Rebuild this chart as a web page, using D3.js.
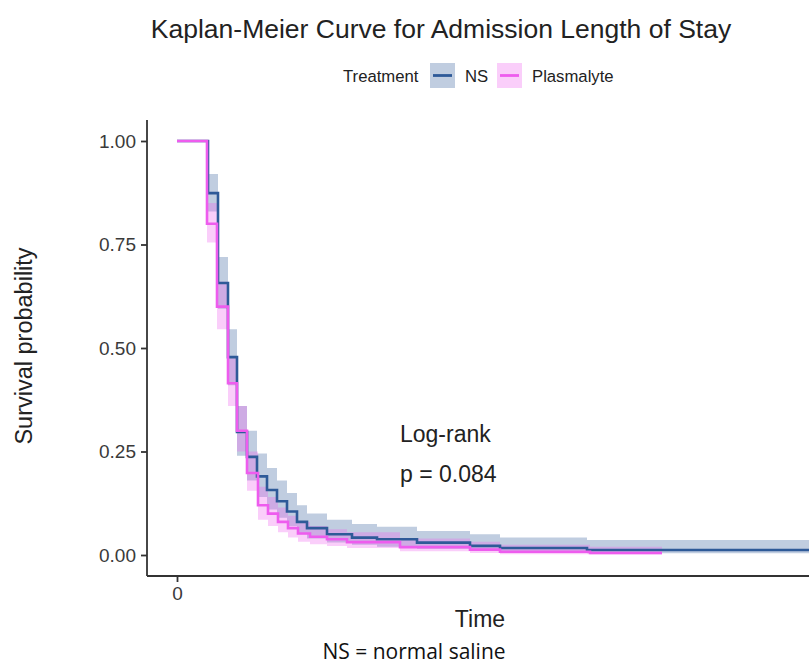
<!DOCTYPE html>
<meta charset="utf-8">
<style>
  body { margin: 0; background: #fff; }
  text { font-family: "Liberation Sans", Arial, sans-serif; }
</style>
<body>
<script src="https://d3js.org/d3.v7.min.js"></script>
<div id="chart"></div>
<script>

// Kaplan-Meier estimates (time in arbitrary units)
var nsTime  = [0, 3.1, 4.1, 5.1, 6.0, 7.0, 8.0, 9.0, 10.0, 11.0, 12.0, 13.0, 15.0, 17.5, 20, 24, 29.3, 32.3, 41, 70];
var nsSurv  = [1, .874, .657, .478, .297, .237, .19, .157, .13, .105, .08, .065, .05, .042, .038, .03, .022, .017, .012, .012];
var nsUpper = [1, .92, .72, .545, .36, .30, .245, .21, .18, .15, .12, .10, .085, .075, .068, .058, .05, .042, .036, .036];
var nsLower = [1, .83, .595, .41, .24, .18, .14, .11, .09, .07, .05, .04, .03, .025, .02, .015, .01, .007, .004, .004];

var plTime  = [0, 3.0, 4.0, 5.1, 6.0, 7.0, 8.1, 9.1, 10.1, 11.1, 12.1, 13.3, 15, 17, 22.3, 29.3, 32.3, 41.3, 48.5];
var plSurv  = [1, .80, .60, .415, .30, .198, .12, .10, .08, .065, .052, .044, .038, .031, .019, .013, .008, .005, .005];
var plUpper = [1, .85, .66, .475, .36, .25, .165, .14, .115, .095, .08, .07, .062, .055, .04, .032, .025, .02, .02];
var plLower = [1, .755, .545, .36, .25, .155, .085, .07, .055, .042, .032, .026, .022, .017, .009, .005, .002, .001, .001];

var yTicks = [0, 0.25, 0.5, 0.75, 1];
var xTicks = [0];

var groups = ["NS", "Plasmalyte"];
var colors = ["#2e5a98", "#ee5cee"];

var width = 809, height = 665;

var x = d3.scaleLinear().domain([0, 63]).range([177, 807]);
var y = d3.scaleLinear().domain([0, 1]).range([555, 141]);

var svg = d3.select("#chart")
  .append("svg")
    .attr("width", width)
    .attr("height", height);

function rows(t, s, lo, hi) {
  return t.map(function(d, i) { return {t: d, s: s[i], lo: lo[i], hi: hi[i]}; });
}
var series = [rows(nsTime, nsSurv, nsLower, nsUpper), rows(plTime, plSurv, plLower, plUpper)];

var band = d3.area()
  .curve(d3.curveStepAfter)
  .x(function(d) { return x(d.t); })
  .y0(function(d) { return y(d.lo); })
  .y1(function(d) { return y(d.hi); });

var line = d3.line()
  .curve(d3.curveStepAfter)
  .x(function(d) { return x(d.t); })
  .y(function(d) { return y(d.s); });

// confidence bands
series.forEach(function(d, i) {
  svg.append("path")
    .attr("d", band(d))
    .style("fill", colors[i])
    .style("fill-opacity", 0.3);
});

// survival curves
series.forEach(function(d, i) {
  svg.append("path")
    .attr("d", line(d))
    .style("fill", "none")
    .style("stroke", colors[i])
    .style("stroke-width", 2.6);
});

// axes
var yAxis = svg.append("g")
  .attr("transform", "translate(147,0)")
  .call(d3.axisLeft(y).tickValues(yTicks).tickFormat(d3.format(".2f")).tickSize(6).tickPadding(5));
yAxis.select(".domain").attr("d", "M0,120V576");

var xAxis = svg.append("g")
  .attr("transform", "translate(0,576)")
  .call(d3.axisBottom(x).tickValues(xTicks).tickSize(6).tickPadding(5));
xAxis.select(".domain").attr("d", "M147,0H809");

svg.selectAll(".domain").style("stroke", "#333").style("stroke-width", 1.8);
svg.selectAll(".tick line").style("stroke", "#333").style("stroke-width", 1.8);
svg.selectAll(".tick text")
  .style("font-size", "19px")
  .style("fill", "#3a3a3a")
  .style("font-family", "'Liberation Sans', Arial, sans-serif");

// titles
svg.append("text")
  .attr("x", 441).attr("y", 38)
  .attr("text-anchor", "middle")
  .style("font-size", "26.5px")
  .style("fill", "#222")
  .text("Kaplan-Meier Curve for Admission Length of Stay");

svg.append("text")
  .attr("x", 480).attr("y", 627)
  .attr("text-anchor", "middle")
  .style("font-size", "23px")
  .style("fill", "#222")
  .text("Time");

svg.append("text")
  .attr("transform", "translate(32,346) rotate(-90)")
  .attr("text-anchor", "middle")
  .style("font-size", "23.5px")
  .style("fill", "#222")
  .text("Survival probability");

// log-rank annotation
svg.append("text")
  .attr("x", 400).attr("y", 442)
  .style("font-size", "23px")
  .style("fill", "#222")
  .text("Log-rank");
svg.append("text")
  .attr("x", 400).attr("y", 482)
  .style("font-size", "23px")
  .style("fill", "#222")
  .text("p = 0.084");

// legend
svg.append("text")
  .attr("x", 343).attr("y", 82)
  .style("font-size", "16.7px")
  .style("fill", "#222")
  .text("Treatment");

var legendX = [430, 497];
var legend = svg.selectAll(".legend")
  .data(groups)
  .enter()
  .append("g")
  .attr("class", "legend")
  .attr("transform", function(d, i) { return "translate(" + legendX[i] + ",63)"; });

legend.append("rect")
  .attr("width", 25)
  .attr("height", 25)
  .style("fill", function(d, i) { return colors[i]; })
  .style("fill-opacity", 0.3);

legend.append("line")
  .attr("x1", 3).attr("x2", 22)
  .attr("y1", 12.5).attr("y2", 12.5)
  .style("stroke", function(d, i) { return colors[i]; })
  .style("stroke-width", 2.8);

legend.append("text")
  .attr("x", 35)
  .attr("y", 19)
  .style("font-size", "16.7px")
  .style("fill", "#222")
  .text(function(d) { return d; });

// caption
svg.append("text")
  .attr("x", 414).attr("y", 659)
  .attr("text-anchor", "middle")
  .style("font-family", "'Open Sans', Lato, sans-serif")
  .style("font-size", "21px")
  .style("fill", "#111")
  .text("NS = normal saline");

</script>
</body>
